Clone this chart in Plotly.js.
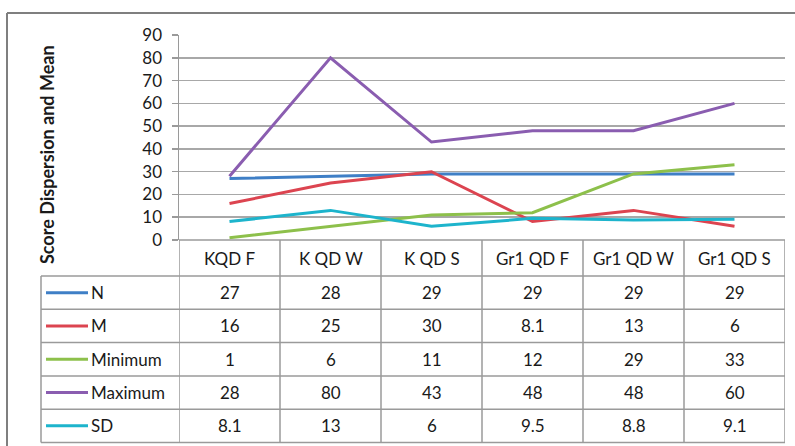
<!DOCTYPE html>
<html>
<head>
<meta charset="utf-8">
<script src="https://cdn.plot.ly/plotly-3.0.1.min.js"></script>
<style>
  html, body { margin: 0; padding: 0; background: #fff; }
  #chart { width: 795px; height: 446px; }
</style>
</head>
<body>
<div id="chart"></div>
<script>
const categories = ['KQD F', 'K QD W', 'K QD S', 'Gr1 QD F', 'Gr1 QD W', 'Gr1 QD S'];
const seriesNames = ['N', 'M', 'Minimum', 'Maximum', 'SD'];
const nVals = [27, 28, 29, 29, 29, 29];
const mVals = [16, 25, 30, 8.1, 13, 6];
const minVals = [1, 6, 11, 12, 29, 33];
const maxVals = [28, 80, 43, 48, 48, 60];
const sdVals = [8.1, 13, 6, 9.5, 8.8, 9.1];
const colors = ['#3f7fc6', '#dc4450', '#8dc04b', '#8a5db0', '#1db4cc'];

const allVals = [nVals, mVals, minVals, maxVals, sdVals];

// plot area in pixels: x 179..785, y 35..240
const W = 795, H = 446;
const L = 179, R = 785, T = 35, B = 240;
const px = p => (p - L) / (R - L);
const py = p => (B - p) / (B - T);

const font = 'Lato, "Open Sans", sans-serif';
const txt = '#1a1a1a';
const lineGray = '#9a9a9a';
const fs = 17;

const traces = allVals.map((vals, i) => ({
  x: categories,
  y: vals,
  type: 'scatter',
  mode: 'lines',
  name: seriesNames[i],
  line: { color: colors[i], width: 3 },
  hoverinfo: 'skip'
}));

// table rows (pixel tops/bottoms)
const hdrBottom = 276;
const rowH = 33.3;
const tableBottom = hdrBottom + rowH * seriesNames.length;

const shapes = [];
const annotations = [];

// outer frame
shapes.push({ type: 'line', xref: 'paper', yref: 'paper', x0: px(7), x1: px(W), y0: py(13), y1: py(13), line: { color: '#7f7f7f', width: 2 } });
shapes.push({ type: 'line', xref: 'paper', yref: 'paper', x0: px(7), x1: px(7), y0: py(13), y1: py(H), line: { color: '#7f7f7f', width: 2 } });

// table vertical lines
for (let j = 0; j <= categories.length; j++) {
  shapes.push({ type: 'line', xref: 'x', yref: 'paper', x0: j - 0.5, x1: j - 0.5, y0: 0, y1: py(tableBottom), line: { color: lineGray, width: 1.5 } });
}
shapes.push({ type: 'line', xref: 'paper', yref: 'paper', x0: px(41), x1: px(41), y0: py(hdrBottom), y1: py(tableBottom), line: { color: lineGray, width: 1.5 } });

// table horizontal lines
shapes.push({ type: 'line', xref: 'paper', yref: 'paper', x0: px(41), x1: 1, y0: py(hdrBottom), y1: py(hdrBottom), line: { color: lineGray, width: 1.5 } });
for (let i = 1; i <= seriesNames.length; i++) {
  const yb = hdrBottom + rowH * i;
  shapes.push({ type: 'line', xref: 'paper', yref: 'paper', x0: px(41), x1: 1, y0: py(yb), y1: py(yb), line: { color: lineGray, width: 1.5 } });
}

// x axis baseline
shapes.push({ type: 'line', xref: 'paper', yref: 'paper', x0: 0, x1: 1, y0: 0, y1: 0, line: { color: lineGray, width: 1.5 } });

const cellFont = { family: font, size: fs, color: txt };

// header cells
categories.forEach(c => {
  annotations.push({ x: c, xref: 'x', y: py((B + hdrBottom) / 2), yref: 'paper', xanchor: 'center', yanchor: 'middle', text: c, showarrow: false, font: cellFont });
});

// body cells + legend keys
seriesNames.forEach((s, i) => {
  const yc = py(hdrBottom + rowH * i + rowH / 2);
  shapes.push({ type: 'line', xref: 'paper', yref: 'paper', x0: px(46), x1: px(88), y0: yc, y1: yc, line: { color: colors[i], width: 3 } });
  annotations.push({ x: px(89), xref: 'paper', y: yc, yref: 'paper', text: s, xanchor: 'left', yanchor: 'middle', showarrow: false, font: cellFont });
  allVals[i].forEach((v, j) => {
    annotations.push({ x: categories[j], xref: 'x', y: yc, yref: 'paper', xanchor: 'center', yanchor: 'middle', text: String(v), showarrow: false, font: cellFont });
  });
});

// y axis title
annotations.push({
  x: px(47), xref: 'paper', y: py(155), yref: 'paper', xanchor: 'center', yanchor: 'middle',
  text: '<b>Score Dispersion and Mean</b>', textangle: -90, showarrow: false,
  font: { family: font, size: 18, color: txt }
});

const layout = {
  width: W, height: H,
  margin: { l: L, r: W - R, t: T, b: H - B },
  paper_bgcolor: '#ffffff',
  plot_bgcolor: '#ffffff',
  showlegend: false,
  font: { family: font, size: fs, color: txt },
  xaxis: {
    type: 'category',
    range: [-0.5, categories.length - 0.5],
    showticklabels: false,
    showgrid: false,
    zeroline: false,
    showline: false,
    ticks: '',
    fixedrange: true
  },
  yaxis: {
    range: [0, 90],
    dtick: 10,
    showgrid: true,
    gridcolor: '#a8a8a8',
    gridwidth: 1.5,
    zeroline: false,
    showline: true,
    linecolor: lineGray,
    linewidth: 1.5,
    ticks: 'outside',
    ticklen: 6,
    tickcolor: lineGray,
    tickwidth: 1.5,
    ticklabelstandoff: 6,
    tickfont: { family: font, size: fs, color: txt },
    fixedrange: true
  },
  shapes: shapes,
  annotations: annotations
};

Plotly.newPlot('chart', traces, layout, { displayModeBar: false, staticPlot: true });
</script>
</body>
</html>
